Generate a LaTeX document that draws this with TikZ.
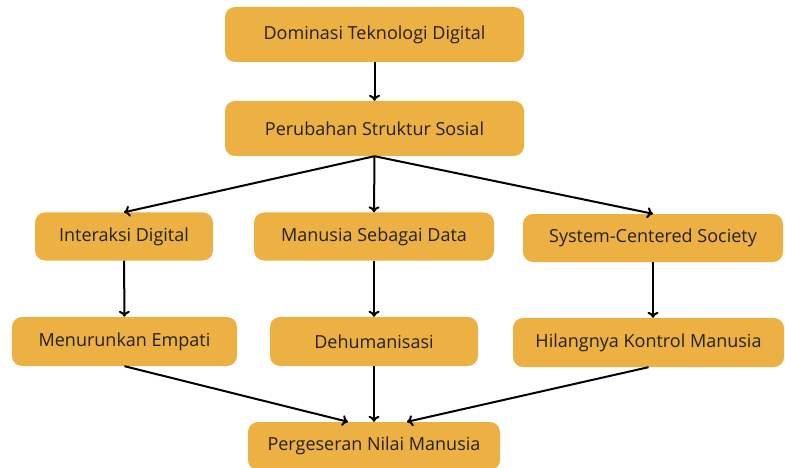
\documentclass[tikz,border=0pt]{standalone}
\usepackage{fontspec}
\setmainfont{Open Sans}
\usetikzlibrary{arrows.meta}
\definecolor{boxgold}{HTML}{ECB043}
\definecolor{boxtext}{HTML}{222222}

\begin{document}
\begin{tikzpicture}[x=1pt,y=-1pt,
	box/.style={fill=boxgold, rounded corners=10pt, text=boxtext, font=\fontsize{18}{21}\selectfont, align=center, inner sep=0pt},
	arr/.style={-{To[length=6pt,width=11pt]}, line width=2pt, black}]
%\draw [help lines,black!20!white] (0,0) grid[step=50] (785,468);
\useasboundingbox (0,0) rectangle (785,468);

\node[box, minimum width=299pt, minimum height=55pt] (domin) at (374.5,34.5) {Dominasi Teknologi Digital};
\node[box, minimum width=299pt, minimum height=55pt] (ubah) at (374.5,128.5) {Perubahan Struktur Sosial};

\node[box, minimum width=178pt, minimum height=48pt] (inter) at (124,236.5) {Interaksi Digital};
\node[box, minimum width=240pt, minimum height=48pt] (data) at (374,236.5) {Manusia Sebagai Data};
\node[box, minimum width=260pt, minimum height=48pt] (sys) at (653,238) {System-Centered Society};

\node[box, minimum width=225pt, minimum height=49pt] (empati) at (124.5,341.5) {Menurunkan Empati};
\node[box, minimum width=208pt, minimum height=49pt] (dehum) at (374,341.5) {Dehumanisasi};
\node[box, minimum width=271pt, minimum height=49pt] (kontrol) at (648.5,342.5) {Hilangnya Kontrol Manusia};

\node[box, minimum width=252pt, minimum height=48pt] (nilai) at (374,446) {Pergeseran Nilai Manusia};

\draw[arr] (domin) -- (ubah);
\foreach \t in {inter,data,sys}
	\draw[arr] (ubah.south) -- (\t.north);
\draw[arr] (inter) -- (empati);
\draw[arr] (data) -- (dehum);
\draw[arr] (sys.south) -- (sys.south |- kontrol.north);
\draw[arr] (empati.south) -- ([xshift=-26pt]nilai.north);
\draw[arr] (dehum) -- (nilai);
\draw[arr] (kontrol.south) -- ([xshift=33pt]nilai.north);

\end{tikzpicture}
\end{document}
